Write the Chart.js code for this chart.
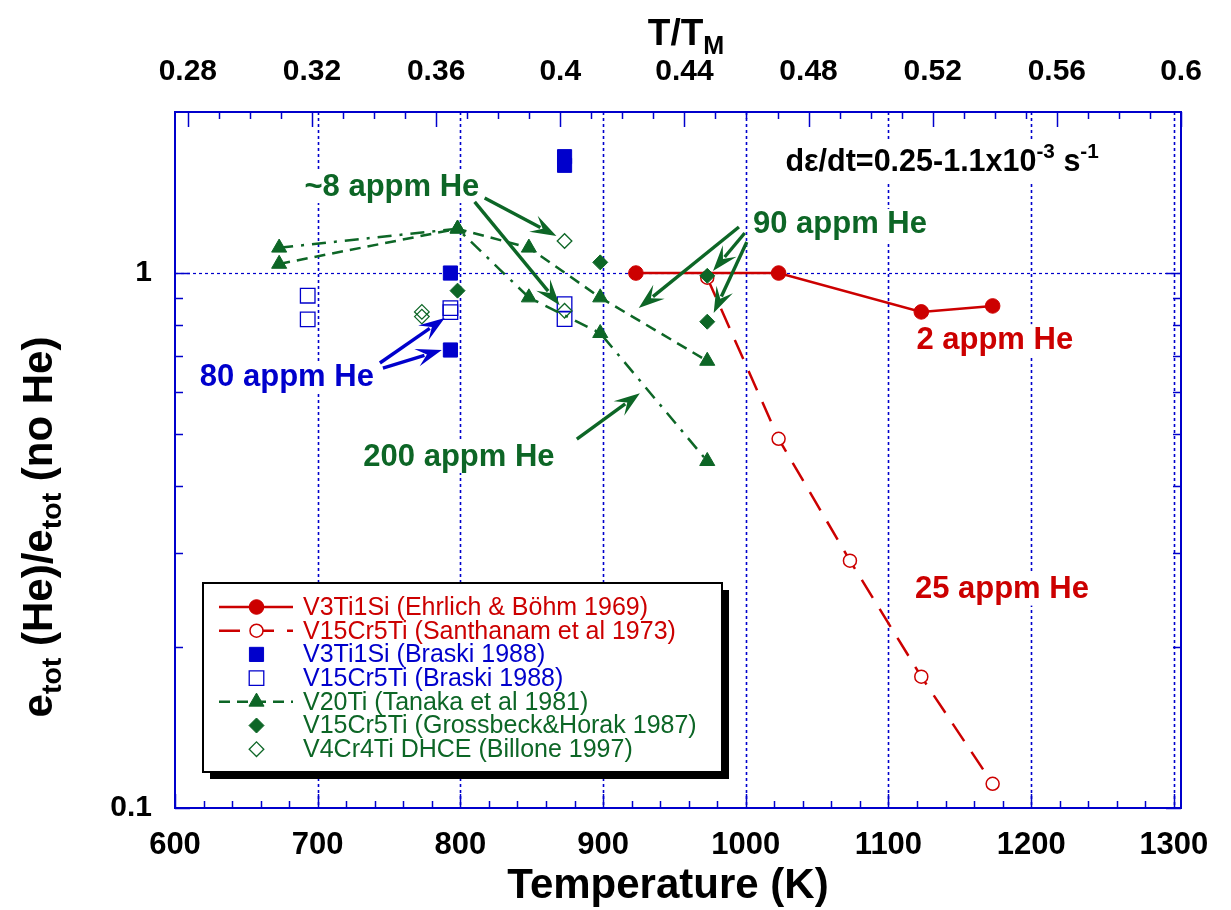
<!DOCTYPE html>
<html>
<head>
<meta charset="utf-8">
<script src="https://cdn.jsdelivr.net/npm/chart.js@4.4.1/dist/chart.umd.min.js"></script>
<style>
  html, body { margin: 0; padding: 0; background: #fff; }
  #wrap { width: 1231px; height: 910px; }
</style>
</head>
<body>
<div id="wrap"><canvas id="chart" width="1231" height="910"></canvas></div>
<script>
// ---- data (temperature in K, ratio e_tot(He)/e_tot(no He)) ----
const ehrlichT = [923, 1023, 1123, 1173];
const ehrlichRatio = [1.0, 1.0, 0.846, 0.868];

const santhanamT = [973, 1023, 1073, 1123, 1173];
const santhanamRatio = [0.98, 0.49, 0.29, 0.176, 0.111];

const braskiV3T = [793, 793, 873, 873];
const braskiV3Ratio = [1.0, 0.718, 1.65, 1.59];

const braskiV15T = [693, 693, 793, 793, 873, 873];
const braskiV15Ratio = [0.907, 0.819, 0.86, 0.845, 0.875, 0.82];

const tanakaT = [673, 798, 848, 898, 973];
const tanakaDashRatio = [1.04, 1.21, 1.115, 0.9, 0.685];
const tanakaDashDotRatio = [1.115, 1.21, 0.9, 0.772, 0.445];

const grossbeckT = [798, 898, 973, 973];
const grossbeckRatio = [0.927, 1.047, 0.988, 0.811];

const billoneT = [773, 773, 873, 873];
const billoneRatio = [0.846, 0.829, 1.148, 0.85];

// axis ticks
const xTickLabels = ['600', '700', '800', '900', '1000', '1100', '1200', '1300'];
const topTickLabels = ['0.28', '0.32', '0.36', '0.4', '0.44', '0.48', '0.52', '0.56', '0.6'];
const yTickLabels = ['0.1', '1'];

const legendLabels = [
    'V3Ti1Si (Ehrlich & Böhm 1969)',
    'V15Cr5Ti (Santhanam et al 1973)',
    'V3Ti1Si (Braski 1988)',
    'V15Cr5Ti (Braski 1988)',
    'V20Ti (Tanaka et al 1981)',
    'V15Cr5Ti (Grossbeck&Horak 1987)',
    'V4Cr4Ti DHCE (Billone 1997)'
];

const TM = 2175; // melting temperature used for the T/TM axis
const RED = '#cc0000', BLUE = '#0000cc', GREEN = '#0d6626';
const FONT = '"Liberation Sans", Arial, sans-serif';

function zip(xs, ys) {
    return xs.map((x, i) => ({ x: x, y: ys[i] }));
}

// annotation texts & arrows, placed in data coordinates
const notes = [
    { text: '~8 appm He', color: GREEN, t: 752, v: 1.448 },
    { text: '90 appm He', color: GREEN, t: 1066, v: 1.23 },
    { text: '2 appm He', color: RED, t: 1174.5, v: 0.749 },
    { text: '25 appm He', color: RED, t: 1179.5, v: 0.256 },
    { text: '80 appm He', color: BLUE, t: 678.4, v: 0.639 },
    { text: '200 appm He', color: GREEN, t: 799, v: 0.453 }
];
const arrows = [
    { color: GREEN, from: [817, 1.381], to: [867.3, 1.173] },
    { color: GREEN, from: [810, 1.358], to: [869.6, 0.871] },
    { color: GREEN, from: [995.2, 1.219], to: [925, 0.86] },
    { color: GREEN, from: [999.3, 1.188], to: [977, 1.009] },
    { color: GREEN, from: [1000.7, 1.143], to: [977.5, 0.842] },
    { color: BLUE, from: [743.6, 0.679], to: [789, 0.824] },
    { color: BLUE, from: [745.7, 0.664], to: [787, 0.718] },
    { color: GREEN, from: [881.6, 0.489], to: [925.8, 0.596] }
];

// ---- rich text helpers (sub/superscripts) ----
function segFont(seg, size) {
    const s = seg.k === 'n' ? size : size * 0.68;
    return 'bold ' + s + 'px ' + FONT;
}
function richWidth(ctx, segs, size) {
    let w = 0;
    segs.forEach(seg => { ctx.font = segFont(seg, size); w += ctx.measureText(seg.t).width; });
    return w;
}
function drawRich(ctx, segs, x, y, size, color, align) {
    const w = richWidth(ctx, segs, size);
    let cx = align === 'center' ? x - w / 2 : (align === 'right' ? x - w : x);
    ctx.fillStyle = color;
    ctx.textAlign = 'left';
    ctx.textBaseline = 'middle';
    segs.forEach(seg => {
        ctx.font = segFont(seg, size);
        let dy = 0;
        if (seg.k === 'sub') dy = size * 0.32;
        if (seg.k === 'sup') dy = -size * 0.36;
        ctx.fillText(seg.t, cx, y + dy);
        cx += ctx.measureText(seg.t).width;
    });
    return w;
}

function drawMarker(ctx, style, x, y, r, fill, stroke, lw) {
    ctx.save();
    ctx.setLineDash([]);
    ctx.beginPath();
    if (style === 'circle') {
        ctx.arc(x, y, r, 0, Math.PI * 2);
    } else if (style === 'rect') {
        const s = r * Math.SQRT1_2;
        ctx.rect(x - s, y - s, 2 * s, 2 * s);
    } else if (style === 'rectRot') {
        ctx.moveTo(x - r, y); ctx.lineTo(x, y - r); ctx.lineTo(x + r, y); ctx.lineTo(x, y + r); ctx.closePath();
    } else if (style === 'triangle') {
        const a = 2 * Math.PI / 3;
        ctx.moveTo(x, y - r);
        ctx.lineTo(x + Math.sin(a) * r, y - Math.cos(a) * r);
        ctx.lineTo(x + Math.sin(2 * a) * r, y - Math.cos(2 * a) * r);
        ctx.closePath();
    }
    if (fill && fill !== 'transparent') { ctx.fillStyle = fill; ctx.fill(); }
    ctx.strokeStyle = stroke; ctx.lineWidth = lw; ctx.stroke();
    ctx.restore();
}

function drawArrow(ctx, x1, y1, x2, y2, color) {
    const a = Math.atan2(y2 - y1, x2 - x1);
    const L = 26, W = 9;
    const c = Math.cos(a), s = Math.sin(a);
    ctx.save();
    ctx.setLineDash([]);
    ctx.strokeStyle = color; ctx.fillStyle = color; ctx.lineWidth = 3.4;
    ctx.beginPath();
    ctx.moveTo(x1, y1);
    ctx.lineTo(x2 - c * L * 0.7, y2 - s * L * 0.7);
    ctx.stroke();
    ctx.beginPath();
    ctx.moveTo(x2, y2);
    ctx.lineTo(x2 - L * c + W * s, y2 - L * s - W * c);
    ctx.lineTo(x2 - 0.6 * L * c, y2 - 0.6 * L * s);
    ctx.lineTo(x2 - L * c - W * s, y2 - L * s + W * c);
    ctx.closePath();
    ctx.fill();
    ctx.restore();
}

// ---- plugin: grid, frame, ticks, labels, notes, legend ----
const decorations = {
    id: 'decorations',
    beforeDatasetsDraw(chart) {
        const ctx = chart.ctx, a = chart.chartArea;
        const xs = chart.scales.x, ys = chart.scales.y;
        ctx.save();
        ctx.strokeStyle = BLUE;
        ctx.lineWidth = 1.6;
        ctx.setLineDash([3, 3]);
        for (let t = 700; t <= 1300; t += 100) {
            const x = Math.round(xs.getPixelForValue(t)) + 0.5;
            ctx.beginPath(); ctx.moveTo(x, a.top); ctx.lineTo(x, a.bottom); ctx.stroke();
        }
        ctx.lineWidth = 1.2;
        const y1 = Math.round(ys.getPixelForValue(1)) + 0.5;
        ctx.beginPath(); ctx.moveTo(a.left, y1); ctx.lineTo(a.right, y1); ctx.stroke();
        ctx.restore();
    },
    afterDatasetsDraw(chart) {
        const ctx = chart.ctx;
        const xs = chart.scales.x, ys = chart.scales.y;
        ctx.save();
        // notes with white background
        notes.forEach(n => {
            const x = xs.getPixelForValue(n.t), y = ys.getPixelForValue(n.v);
            ctx.font = 'bold 31px ' + FONT;
            const w = ctx.measureText(n.text).width;
            ctx.fillStyle = '#fff';
            ctx.fillRect(x - w / 2 - 3, y - 16, w + 6, 32);
            drawRich(ctx, [{ t: n.text, k: 'n' }], x, y, 31, n.color, 'center');
        });
        // strain-rate note
        const rateSegs = [{ t: 'd\u03b5/dt=0.25-1.1x10', k: 'n' }, { t: '-3', k: 'sup' }, { t: ' s', k: 'n' }, { t: '-1', k: 'sup' }];
        const rx = xs.getPixelForValue(1137.6), ry = ys.getPixelForValue(1.606);
        const rw = richWidth(ctx, rateSegs, 30.5);
        ctx.fillStyle = '#fff';
        ctx.fillRect(rx - rw / 2 - 3, ry - 22, rw + 6, 40);
        drawRich(ctx, rateSegs, rx, ry, 30.5, '#000', 'center');
        arrows.forEach(ar => {
            drawArrow(ctx, xs.getPixelForValue(ar.from[0]), ys.getPixelForValue(ar.from[1]),
                xs.getPixelForValue(ar.to[0]), ys.getPixelForValue(ar.to[1]), ar.color);
        });
        ctx.restore();
    },
    afterDraw(chart) {
        const ctx = chart.ctx, a = chart.chartArea;
        const xs = chart.scales.x, ys = chart.scales.y, xt = chart.scales.x2;
        ctx.save();
        ctx.setLineDash([]);
        ctx.strokeStyle = BLUE;
        // ticks
        ctx.lineWidth = 1.5;
        for (let t = 600; t <= 1300; t += 20) {
            const x = Math.round(xs.getPixelForValue(t)) + 0.5;
            const len = t % 100 === 0 ? 14 : 7;
            ctx.beginPath(); ctx.moveTo(x, a.bottom); ctx.lineTo(x, a.bottom - len); ctx.stroke();
        }
        for (let k = 28; k <= 60; k++) {
            const x = Math.round(xt.getPixelForValue(k / 100)) + 0.5;
            const len = k % 4 === 0 ? 15 : 7;
            ctx.beginPath(); ctx.moveTo(x, a.top); ctx.lineTo(x, a.top + len); ctx.stroke();
        }
        const yMinor = [0.2, 0.3, 0.4, 0.5, 0.6, 0.7, 0.8, 0.9];
        [0.1, 1].concat(yMinor).forEach(v => {
            const y = Math.round(ys.getPixelForValue(v)) + 0.5;
            const len = (v === 1 || v === 0.1) ? 15 : 8;
            ctx.beginPath(); ctx.moveTo(a.left, y); ctx.lineTo(a.left + len, y); ctx.stroke();
            ctx.beginPath(); ctx.moveTo(a.right, y); ctx.lineTo(a.right - len, y); ctx.stroke();
        });
        // frame
        ctx.lineWidth = 2;
        ctx.strokeRect(a.left, a.top, a.right - a.left, a.bottom - a.top);

        // tick labels
        ctx.fillStyle = '#000';
        ctx.textBaseline = 'middle';
        ctx.textAlign = 'center';
        ctx.font = 'bold 31px ' + FONT;
        xTickLabels.forEach(lbl => ctx.fillText(lbl, xs.getPixelForValue(+lbl), 845));
        ctx.font = 'bold 30px ' + FONT;
        topTickLabels.forEach(lbl => ctx.fillText(lbl, xt.getPixelForValue(+lbl), 72));
        ctx.textAlign = 'right';
        ctx.font = 'bold 30px ' + FONT;
        yTickLabels.forEach(lbl => ctx.fillText(lbl, 152, ys.getPixelForValue(+lbl)));

        // axis titles
        ctx.textAlign = 'center';
        ctx.font = 'bold 42px ' + FONT;
        ctx.fillText('Temperature (K)', 668, 886);
        drawRich(ctx, [{ t: 'T/T', k: 'n' }, { t: 'M', k: 'sub' }], 686, 35, 37, '#000', 'center');
        ctx.save();
        ctx.translate(40, 527);
        ctx.rotate(-Math.PI / 2);
        drawRich(ctx, [{ t: 'e', k: 'n' }, { t: 'tot', k: 'sub' }, { t: ' (He)/e', k: 'n' }, { t: 'tot', k: 'sub' }, { t: ' (no He)', k: 'n' }],
            0, 0, 42, '#000', 'center');
        ctx.restore();

        // legend box
        const lx = 203, ly = 583, lw = 519, lh = 189;
        ctx.fillStyle = '#000';
        ctx.fillRect(lx + 7, ly + 7, lw, lh);
        ctx.fillStyle = '#fff';
        ctx.fillRect(lx, ly, lw, lh);
        ctx.strokeStyle = '#000';
        ctx.lineWidth = 2;
        ctx.strokeRect(lx, ly, lw, lh);
        const order = [0, 1, 2, 3, 4, 6, 7];
        order.forEach((di, row) => {
            const ds = chart.data.datasets[di];
            const y = 607 + row * 23.7;
            if (ds.showLine) {
                ctx.save();
                ctx.strokeStyle = ds.borderColor;
                ctx.lineWidth = ds.borderWidth;
                ctx.setLineDash(ds.borderDash || []);
                ctx.beginPath(); ctx.moveTo(219, y); ctx.lineTo(293, y); ctx.stroke();
                ctx.restore();
            }
            drawMarker(ctx, ds.pointStyle, 256.5, y, ds.pointRadius, ds.pointBackgroundColor, ds.pointBorderColor, ds.pointBorderWidth);
            ctx.fillStyle = ds.borderColor;
            ctx.font = '25px ' + FONT;
            ctx.textAlign = 'left';
            ctx.textBaseline = 'middle';
            ctx.fillText(legendLabels[row], 303, y + 1);
        });
        ctx.restore();
    }
};

const ctx = document.getElementById('chart').getContext('2d');
new Chart(ctx, {
    type: 'scatter',
    data: {
        datasets: [
            {
                label: legendLabels[0], data: zip(ehrlichT, ehrlichRatio), showLine: true, order: 7,
                borderColor: RED, borderWidth: 2.5, pointStyle: 'circle', pointRadius: 7.3,
                pointBackgroundColor: RED, pointBorderColor: RED, pointBorderWidth: 1
            },
            {
                label: legendLabels[1], data: zip(santhanamT, santhanamRatio), showLine: true, order: 6,
                borderColor: RED, borderWidth: 2.5, borderDash: [21, 13], pointStyle: 'circle', pointRadius: 6.5,
                pointBackgroundColor: '#fff', pointBorderColor: RED, pointBorderWidth: 1.5
            },
            {
                label: legendLabels[2], data: zip(braskiV3T, braskiV3Ratio), showLine: false, order: 4,
                borderColor: BLUE, pointStyle: 'rect', pointRadius: 10,
                pointBackgroundColor: BLUE, pointBorderColor: BLUE, pointBorderWidth: 1
            },
            {
                label: legendLabels[3], data: zip(braskiV15T, braskiV15Ratio), showLine: false, order: 5,
                borderColor: BLUE, pointStyle: 'rect', pointRadius: 10.3,
                pointBackgroundColor: 'transparent', pointBorderColor: BLUE, pointBorderWidth: 1.3
            },
            {
                label: legendLabels[4], data: zip(tanakaT, tanakaDashRatio), showLine: true, order: 2,
                borderColor: GREEN, borderWidth: 2.5, borderDash: [11, 7], pointStyle: 'triangle', pointRadius: 8.7,
                pointBackgroundColor: GREEN, pointBorderColor: GREEN, pointBorderWidth: 1
            },
            {
                label: 'V20Ti (Tanaka et al 1981) dash-dot', data: zip(tanakaT, tanakaDashDotRatio), showLine: true, order: 3,
                borderColor: GREEN, borderWidth: 2.5, borderDash: [14, 8, 3, 8], pointStyle: 'triangle', pointRadius: 8.7,
                pointBackgroundColor: GREEN, pointBorderColor: GREEN, pointBorderWidth: 1
            },
            {
                label: legendLabels[5], data: zip(grossbeckT, grossbeckRatio), showLine: false, order: 0,
                borderColor: GREEN, pointStyle: 'rectRot', pointRadius: 7.5,
                pointBackgroundColor: GREEN, pointBorderColor: GREEN, pointBorderWidth: 1
            },
            {
                label: legendLabels[6], data: zip(billoneT, billoneRatio), showLine: false, order: 1,
                borderColor: GREEN, pointStyle: 'rectRot', pointRadius: 7.3,
                pointBackgroundColor: 'transparent', pointBorderColor: GREEN, pointBorderWidth: 1.3
            }
        ]
    },
    options: {
        responsive: false,
        animation: false,
        devicePixelRatio: 1,
        layout: { padding: { left: 175, right: 50, top: 112, bottom: 102 } },
        elements: { line: { tension: 0 } },
        plugins: { legend: { display: false }, tooltip: { enabled: false } },
        scales: {
            x: {
                type: 'linear', position: 'bottom', min: 600, max: 1305,
                ticks: { display: false }, grid: { display: false }, border: { display: false },
                afterFit: s => { s.height = 0; }
            },
            x2: {
                type: 'linear', axis: 'x', position: 'top', min: 600 / TM, max: 1305 / TM,
                ticks: { display: false }, grid: { display: false }, border: { display: false },
                afterFit: s => { s.height = 0; }
            },
            y: {
                type: 'logarithmic', min: 0.1, max: 2,
                ticks: { display: false }, grid: { display: false }, border: { display: false },
                afterFit: s => { s.width = 0; }
            }
        }
    },
    plugins: [decorations]
});
</script>
</body>
</html>
